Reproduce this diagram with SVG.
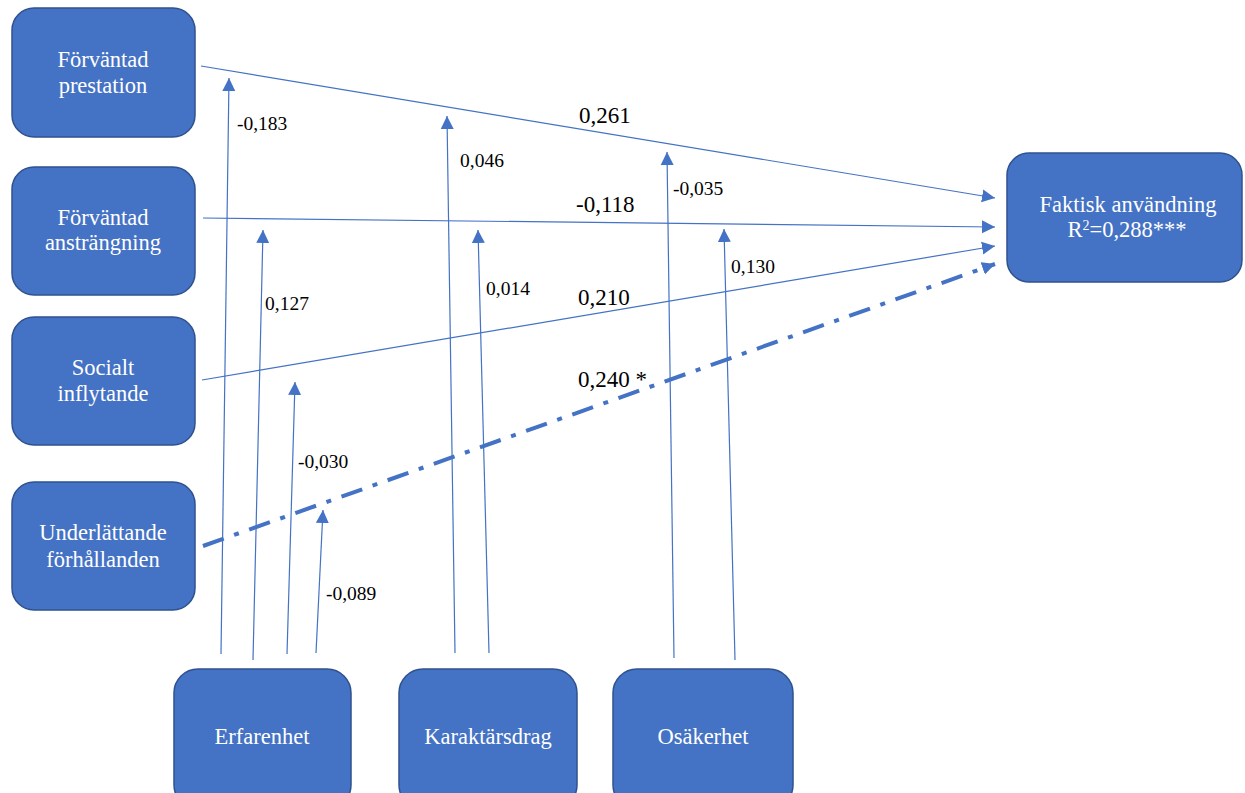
<svg xmlns="http://www.w3.org/2000/svg" width="1245" height="793" viewBox="0 0 1245 793">
<style>
.box{fill:#4472C4;stroke:#2F528F;stroke-width:1.5}
.nt{font-family:"Liberation Serif","Times New Roman",serif;font-size:22.5px;fill:#ffffff;text-anchor:middle}
.ln{stroke:#4472C4;stroke-width:1.2;fill:none}
.dd{stroke:#4472C4;stroke-width:4;fill:none;stroke-dasharray:22 11 5 11}
.lb{font-family:"Liberation Serif","Times New Roman",serif;font-size:19.5px;fill:#000}
.lbb{font-family:"Liberation Serif","Times New Roman",serif;font-size:23px;fill:#000}
</style>
<defs>
<marker id="ah" markerUnits="userSpaceOnUse" markerWidth="14" markerHeight="14" refX="13" refY="6.5" orient="auto" viewBox="0 0 14 13">
<path d="M0,0 L13,6.5 L0,13 z" fill="#4472C4"/>
</marker>
</defs>
<rect width="1245" height="793" fill="#ffffff"/>
<g id="n-prestation"><rect class="box" x="12" y="8" width="183" height="129" rx="22"/><text class="nt" x="103" y="67">Förväntad</text><text class="nt" x="103" y="93">prestation</text></g>
<g id="n-anstrangning"><rect class="box" x="12" y="167" width="183" height="128" rx="22"/><text class="nt" x="103" y="225">Förväntad</text><text class="nt" x="103" y="250">ansträngning</text></g>
<g id="n-socialt"><rect class="box" x="12" y="317" width="183" height="128" rx="22"/><text class="nt" x="103" y="375">Socialt</text><text class="nt" x="103" y="401">inflytande</text></g>
<g id="n-underlattande"><rect class="box" x="12" y="482" width="183" height="128" rx="22"/><text class="nt" x="103" y="540">Underlättande</text><text class="nt" x="103" y="567">förhållanden</text></g>
<g id="n-faktisk"><rect class="box" x="1007" y="153" width="235" height="129" rx="22"/><text class="nt" x="1128" y="212">Faktisk användning</text><text class="nt" x="1127" y="237">R<tspan font-size="14" dy="-7">2</tspan><tspan dy="7">=0,288***</tspan></text></g>
<g id="n-erfarenhet"><rect class="box" x="174" y="669" width="177" height="140" rx="24"/><text class="nt" x="262" y="744">Erfarenhet</text></g>
<g id="n-karaktarsdrag"><rect class="box" x="399" y="669" width="178" height="140" rx="24"/><text class="nt" x="488" y="744">Karaktärsdrag</text></g>
<g id="n-osakerhet"><rect class="box" x="613" y="669" width="180" height="140" rx="24"/><text class="nt" x="703" y="744">Osäkerhet</text></g>
<g id="connectors">
<line class="ln" x1="201" y1="66" x2="995" y2="198" marker-end="url(#ah)"/>
<line class="ln" x1="203" y1="218" x2="995" y2="227" marker-end="url(#ah)"/>
<line class="ln" x1="202" y1="380" x2="995" y2="246" marker-end="url(#ah)"/>
<line class="dd" x1="203" y1="546" x2="995" y2="264" marker-end="url(#ah)"/>
<line class="ln" x1="221" y1="654" x2="229" y2="78" marker-end="url(#ah)"/>
<line class="ln" x1="253" y1="660" x2="263" y2="230" marker-end="url(#ah)"/>
<line class="ln" x1="287" y1="654" x2="295" y2="382" marker-end="url(#ah)"/>
<line class="ln" x1="316" y1="653" x2="323" y2="510" marker-end="url(#ah)"/>
<line class="ln" x1="455" y1="653" x2="447" y2="116" marker-end="url(#ah)"/>
<line class="ln" x1="489" y1="653" x2="478" y2="230" marker-end="url(#ah)"/>
<line class="ln" x1="674" y1="658" x2="667" y2="152" marker-end="url(#ah)"/>
<line class="ln" x1="735" y1="660" x2="724" y2="229" marker-end="url(#ah)"/>
</g>
<g id="labels">
<text class="lb" x="237" y="130">-0,183</text>
<text class="lb" x="460" y="167">0,046</text>
<text class="lb" x="673" y="195">-0,035</text>
<text class="lb" x="731" y="273">0,130</text>
<text class="lb" x="486" y="295">0,014</text>
<text class="lb" x="265" y="310">0,127</text>
<text class="lb" x="298" y="468">-0,030</text>
<text class="lb" x="326" y="600">-0,089</text>
<text class="lbb" x="579" y="123">0,261</text>
<text class="lbb" x="576" y="212">-0,118</text>
<text class="lbb" x="578" y="305">0,210</text>
<text class="lbb" x="578" y="387">0,240 *</text>
</g>
</svg>
